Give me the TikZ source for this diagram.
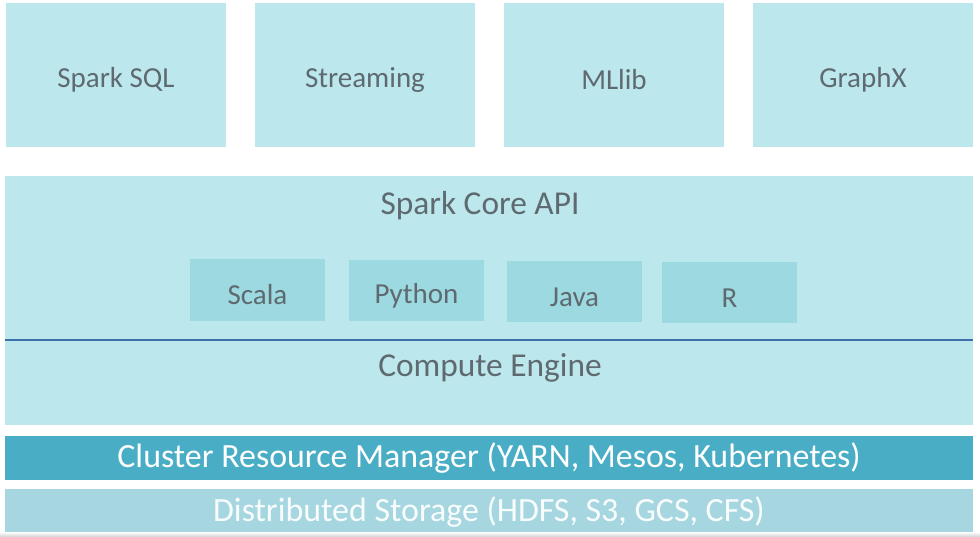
\documentclass[tikz,border=0pt]{standalone}
\usepackage{fontspec}
\setmainfont{Carlito}
\definecolor{paleteal}{HTML}{BCE7EC}
\definecolor{langteal}{HTML}{9DD9E0}
\definecolor{darkteal}{HTML}{4AADC6}
\definecolor{midteal}{HTML}{A6D7E1}
\definecolor{labelgray}{HTML}{5E6A70}
\definecolor{sepblue}{HTML}{3F6FA8}
\tikzset{
  libbox/.style={fill=paleteal, minimum width=4.4cm, minimum height=2.88cm, text height=0.58cm, text=labelgray, font=\fontsize{16.5}{19}\selectfont},
  langbox/.style={fill=langteal, minimum width=2.7cm, minimum height=1.24cm, text height=0.6cm, text=labelgray, font=\fontsize{16.5}{19}\selectfont},
  layerlabel/.style={text=labelgray, font=\fontsize{19}{22}\selectfont},
  barbox/.style={minimum width=19.36cm, text=white, font=\fontsize{19.3}{22}\selectfont}
}
\begin{document}
\begin{tikzpicture}[x=0.02cm, y=-0.02cm]
\useasboundingbox (0,0) rectangle (980,537);

\node[libbox] (sql) at (116,75) {Spark SQL};
\node[libbox] (streaming) at (365,75) {Streaming};
\node[libbox] (mllib) at (614,75) {MLlib};
\node[libbox] (graphx) at (863,75) {GraphX};

\node[fill=paleteal, minimum width=19.36cm, minimum height=4.98cm] (core) at (489,300.5) {};
\node[layerlabel] (api) at (480,206) {Spark Core API};

\node[langbox] (scala) at (257.5,290) {Scala};
\node[langbox] (python) at (416.5,290.5) {Python};
\node[langbox] (java) at (574.5,291.5) {Java};
\node[langbox] (r) at (729.5,292.5) {R};

\coordinate (sepL) at (5,340);
\coordinate (sepR) at (973,340);
\draw[sepblue, line width=0.6pt] (sepL) -- (sepR);
\node[layerlabel] (engine) at (490,368) {Compute Engine};

\node[barbox, fill=darkteal, minimum height=0.88cm] (cluster) at (489,458) {Cluster Resource Manager (YARN, Mesos, Kubernetes)};
\node[barbox, fill=midteal, minimum height=0.92cm, text=white!92!midteal] (storage) at (489,512) {Distributed Storage (HDFS, S3, GCS, CFS)};

\shade[top color=white, bottom color=gray!35] (0,532) rectangle (980,537);
\end{tikzpicture}
\end{document}
